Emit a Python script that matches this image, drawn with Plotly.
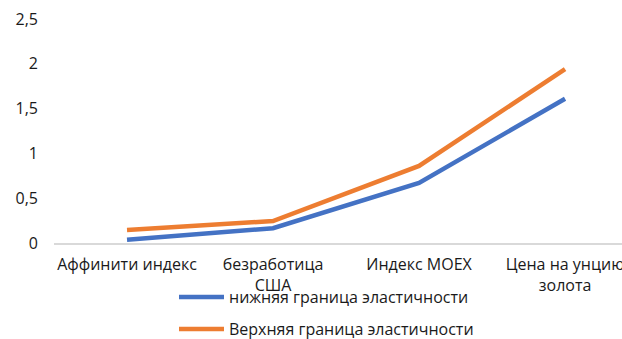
import plotly.graph_objects as go

categories = ["Аффинити индекс", "безработица<br>США", "Индекс MOEX", "Цена на унцию<br>золота"]
lower = [0.035, 0.165, 0.67, 1.61]
upper = [0.145, 0.245, 0.86, 1.94]
series_names = ["нижняя граница эластичности", "Верхняя граница эластичности"]
colors = ["#4472C4", "#ED7D31"]
y_ticks = [0, 0.5, 1, 1.5, 2, 2.5]
y_ticktext = ["0", "0,5", "1", "1,5", "2", "2,5"]

FONT = "Open Sans"
TXT = "#1a1a1a"

fig = go.Figure()
fig.add_trace(go.Scatter(x=list(range(len(categories))), y=lower, mode="lines",
                         name=series_names[0], line=dict(color=colors[0], width=4.5),
                         legend="legend"))
fig.add_trace(go.Scatter(x=list(range(len(categories))), y=upper, mode="lines",
                         name=series_names[1], line=dict(color=colors[1], width=4.5),
                         legend="legend2"))

legend_common = dict(font=dict(family=FONT, size=16, color=TXT), bgcolor="rgba(0,0,0,0)",
                     xanchor="left", yanchor="middle", borderwidth=0, itemwidth=45)

fig.update_layout(
    width=622, height=339,
    margin=dict(l=54, r=0, t=19, b=96, autoexpand=False),
    plot_bgcolor="white", paper_bgcolor="white",
    font=dict(family=FONT, size=16, color=TXT),
    showlegend=True,
    legend=dict(x=(174 - 54) / 568, y=-(297 - 243) / 224, **legend_common),
    legend2=dict(x=(174 - 54) / 568, y=-(329 - 243) / 224, **legend_common),
    xaxis=dict(
        range=[-0.5, 3.39], tickmode="array", tickvals=list(range(len(categories))),
        ticktext=categories, showgrid=False, zeroline=False, showline=True,
        linecolor="#D9D9D9", linewidth=1.5, ticks="", ticklabelstandoff=6,
        ticklabeloverflow="allow",
        tickfont=dict(family=FONT, size=16, color=TXT),
    ),
    yaxis=dict(
        range=[0, 2.5], tickmode="array", tickvals=y_ticks, ticktext=y_ticktext,
        showgrid=False, zeroline=False, showline=False, ticks="",
        ticklabelstandoff=15, tickfont=dict(family=FONT, size=16, color=TXT),
    ),
)

fig.write_html("out.html")
